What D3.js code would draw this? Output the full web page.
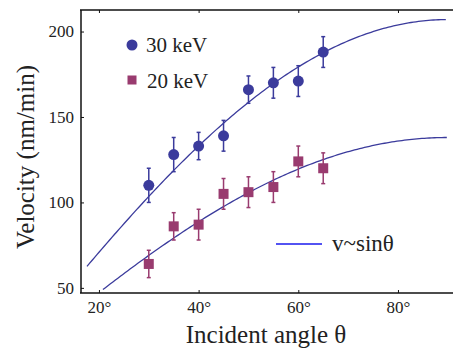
<!DOCTYPE html>
<html><head><meta charset="utf-8">
<script src="https://cdn.jsdelivr.net/npm/d3@7"></script>
<style>body{margin:0;background:#fff}svg{display:block}</style>
</head><body><svg id="c" width="453" height="352"></svg>
<script>
const angles = [30,35,40,45,50,55,60,65];
const v30 = [110,128,133,139,166,170,171,188];
const e30 = [10,10,8,9,8,9,9,9];
const v20 = [64,86,87,105,106,109,124,120];
const e20 = [8,8,9,9,9,9,9,9];
const amp30 = 207, amp20 = 138;
const start30 = 17.6, start20 = 20.8;
const xTicks = [20,40,60,80];
const yTicks = [50,100,150,200];

const FONT = "'Liberation Serif', 'Times New Roman', Times, 'DejaVu Serif', 'Noto Serif', serif";
const svg = d3.select("#c").attr("font-family", FONT);
const x = d3.scaleLinear().domain([16.4,91.2]).range([81,453.8]);
const y = d3.scaleLinear().domain([47,212.6]).range([293,10]);
const blue = "#3b3b9c", pink = "#993b6f";

svg.append("line").attr("x1",81).attr("x2",81).attr("y1",10).attr("y2",293).attr("stroke","#111").attr("stroke-width",1.5);
svg.append("line").attr("x1",80).attr("x2",453).attr("y1",293).attr("y2",293).attr("stroke","#111").attr("stroke-width",1.5);
svg.append("line").attr("x1",80).attr("x2",453).attr("y1",10).attr("y2",10).attr("stroke","#111").attr("stroke-width",1.5);

const gx = svg.append("g").attr("transform","translate(0,293)")
  .call(d3.axisBottom(x).tickValues(xTicks).tickSize(-3).tickPadding(8).tickFormat(d=>d+"°"));
const gxt = svg.append("g").attr("transform","translate(0,10)")
  .call(d3.axisTop(x).tickValues(xTicks).tickSize(-3).tickFormat(""));
const gy = svg.append("g").attr("transform","translate(81,0)")
  .call(d3.axisLeft(y).tickValues(yTicks).tickSize(-3).tickPadding(7));
[gx,gxt,gy].forEach(g=>{g.attr("font-family",FONT).attr("font-size",17);
  g.select(".domain").remove();g.selectAll(".tick line").attr("stroke","#111");
  g.selectAll("text").attr("fill","#222");});

function curve(A, s){
  const pts = d3.range(s, 90.001, 0.5).map(t=>[t, A*Math.sin(t*Math.PI/180)]);
  return d3.line().x(d=>x(d[0])).y(d=>y(d[1]))(pts);
}
svg.append("path").attr("d",curve(amp30,start30)).attr("fill","none").attr("stroke",blue).attr("stroke-width",1.3);
svg.append("path").attr("d",curve(amp20,start20)).attr("fill","none").attr("stroke",blue).attr("stroke-width",1.3);

function errs(vals, errv, col){
  const g = svg.append("g").attr("stroke",col).attr("stroke-width",1.5);
  angles.forEach((a,i)=>{
    const cx = x(a);
    g.append("line").attr("x1",cx).attr("x2",cx).attr("y1",y(vals[i]+errv[i])).attr("y2",y(vals[i]-errv[i]));
    [1,-1].forEach(s=>g.append("line").attr("x1",cx-2).attr("x2",cx+2).attr("y1",y(vals[i]+s*errv[i])).attr("y2",y(vals[i]+s*errv[i])));
  });
}
errs(v30,e30,blue);
errs(v20,e20,pink);
svg.selectAll("circle.p").data(angles).enter().append("circle").attr("cx",d=>x(d)).attr("cy",(d,i)=>y(v30[i])).attr("r",5.5).attr("fill",blue);
svg.selectAll("rect.p").data(angles).enter().append("rect").attr("x",d=>x(d)-5).attr("y",(d,i)=>y(v20[i])-5).attr("width",10).attr("height",10).attr("fill",pink);

const T = (xx,yy,s,t)=>svg.append("text").attr("x",xx).attr("y",yy).attr("font-size",s).attr("fill","#222").attr("font-family",FONT).text(t);
svg.append("circle").attr("cx",132).attr("cy",45).attr("r",5.5).attr("fill",blue);
T(146,52,21,"30 keV");
svg.append("rect").attr("x",127.5).attr("y",75.5).attr("width",9).attr("height",9).attr("fill",pink);
T(147,88,21,"20 keV");
svg.append("line").attr("x1",276).attr("x2",322).attr("y1",244).attr("y2",244).attr("stroke","#1a1aee").attr("stroke-width",1.6);
T(332,251,23,"v~sinθ");

T(266,343,25,"Incident angle θ").attr("text-anchor","middle");
svg.append("text").attr("transform","translate(34,157) rotate(-90)").attr("text-anchor","middle").attr("font-size",25).attr("fill","#222").attr("font-family",FONT).text("Velocity (nm/min)");
</script></body></html>
